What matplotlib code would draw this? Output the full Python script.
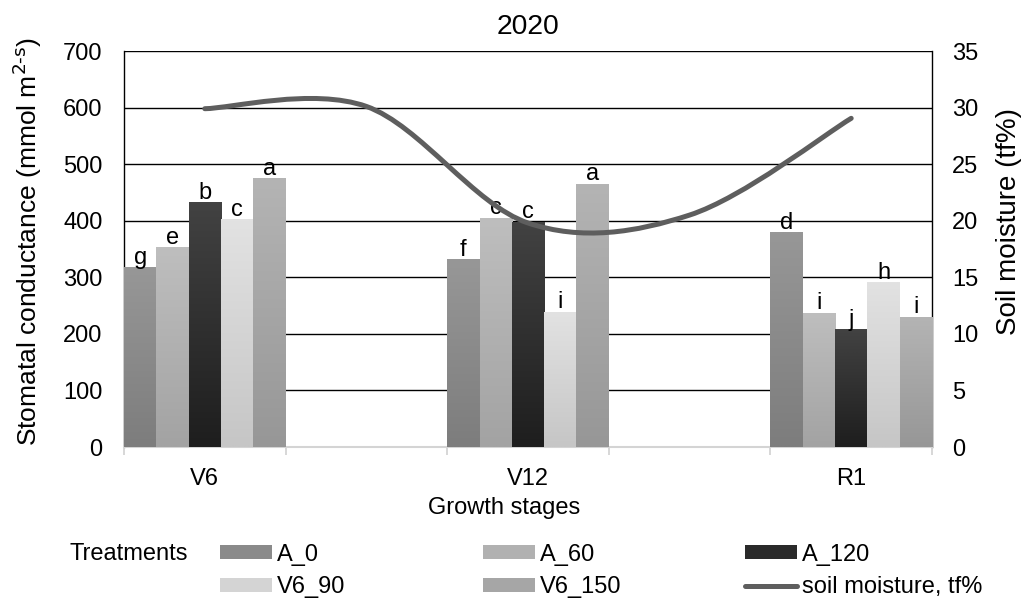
import numpy as np
import matplotlib.pyplot as plt
from matplotlib.path import Path
from matplotlib.patches import PathPatch, Patch
from matplotlib.lines import Line2D

plt.rcParams['font.family'] = ['Liberation Sans', 'DejaVu Sans']
plt.rcParams['font.size'] = 17

# data
stage_labels = ['V6', 'V12', 'R1']
stage_pos = [0, 2, 4]          # empty category between each stage
treatments = ['A_0', 'A_60', 'A_120', 'V6_90', 'V6_150']
a_0 = [318, 332, 380]
a_60 = [353, 405, 237]
a_120 = [433, 398, 208]
v6_90 = [403, 239, 291]
v6_150 = [475, 465, 230]
let_a_0 = ['g', 'f', 'd']
let_a_60 = ['e', 'c', 'i']
let_a_120 = ['b', 'c', 'j']
let_v6_90 = ['c', 'i', 'h']
let_v6_150 = ['a', 'a', 'i']
moisture_pos = [0, 1, 2, 3, 4]
moisture = [29.9, 30.1, 19.8, 20.5, 29.05]

values = [a_0, a_60, a_120, v6_90, v6_150]
letters = [let_a_0, let_a_60, let_a_120, let_v6_90, let_v6_150]
tops = ['#979797', '#bebebe', '#424242', '#e2e2e2', '#b4b4b4']
bottoms = ['#7d7d7d', '#a3a3a3', '#1e1e1e', '#c6c6c6', '#979797']
mids = ['#8a8a8a', '#b1b1b1', '#2a2a2a', '#d4d4d4', '#a6a6a6']
line_col = '#5e5e5e'

W, H = 1030, 598
fig = plt.figure(figsize=(W / 100, H / 100), dpi=100)
ax = fig.add_axes([124 / W, 1 - 447 / H, 808 / W, 396 / H])

bw = 0.2
for i, (vals, lets) in enumerate(zip(values, letters)):
    xs = [p - 0.4 + i * bw for p in stage_pos]
    bars = ax.bar(xs, vals, width=bw, facecolor='none', edgecolor='none', zorder=3)
    grad = np.linspace(np.array(plt.matplotlib.colors.to_rgb(tops[i])),
                       np.array(plt.matplotlib.colors.to_rgb(bottoms[i])), 64)[:, None, :]
    for b, lt in zip(bars, lets):
        x0, h = b.get_x(), b.get_height()
        im = ax.imshow(grad, extent=[x0, x0 + b.get_width(), 0, h], aspect='auto',
                       zorder=3, interpolation='bilinear')
        im.set_clip_path(b)
        ax.annotate(lt, (x0 + b.get_width() / 2, h), xytext=(0, 2.5),
                    textcoords='offset points', ha='center', va='baseline', zorder=6)

ax.set_xlim(-0.5, 4.5)
ax.set_ylim(0, 700)
ax.set_yticks(range(0, 701, 100))
ax.hlines(range(100, 701, 100), -0.5, 4.5, color='black', lw=1.0, zorder=0.5)
ax.set_xticks(stage_pos, stage_labels)
ax.set_xticks(np.arange(-0.5, 4.6, 1), minor=True)
ax.tick_params(axis='x', which='major', length=0, pad=15)
ax.tick_params(axis='x', which='minor', length=6, width=1.3, color='#d4d4d4')
ax.tick_params(axis='y', length=0, pad=15.5)
ax.spines['top'].set_visible(False)
for s in ['left', 'right']:
    ax.spines[s].set_color('black')
    ax.spines[s].set_linewidth(1.0)
    ax.spines[s].set_zorder(0.6)
ax.spines['bottom'].set_color('#d4d4d4')
ax.spines['bottom'].set_linewidth(1.5)
ax.set_ylabel('Stomatal conductance (mmol m$^{\\text{2-s}}$)', labelpad=14, fontsize=19)
ax.yaxis.label.set_y(0.52)
ax.set_xlabel('Growth stages', labelpad=5)
ax.xaxis.label.set_x(0.47)
ax.set_title('2020', pad=12)

ax2 = ax.twinx()
ax2.set_ylim(0, 35)
ax2.set_yticks(range(0, 36, 5))
ax2.tick_params(axis='y', length=0, pad=14.5)
for s in ax2.spines.values():
    s.set_visible(False)
ax2.set_ylabel('Soil moisture (tf%)', labelpad=13, fontsize=20)
ax2.yaxis.label.set_y(0.57)

# smoothed line (Excel style bezier through the points)
pts = np.column_stack([moisture_pos, moisture]).astype(float)
n = len(pts)
verts = [pts[0]]
codes = [Path.MOVETO]
for i in range(n - 1):
    pp = pts[max(i - 1, 0)]
    p0 = pts[i]
    p1 = pts[i + 1]
    pn = pts[min(i + 2, n - 1)]
    verts += [p0 + (p1 - pp) / 6, p1 - (pn - p0) / 6, p1]
    codes += [Path.CURVE4] * 3
curve = PathPatch(Path(verts, codes), facecolor='none', edgecolor=line_col,
                  lw=3.6, capstyle='round', zorder=5)
ax2.add_patch(curve)

# legend
fig.text(70 / W, 1 - 554 / H, 'Treatments', va='center', ha='left')
handles = [Patch(facecolor=c, edgecolor='none') for c in mids]
handles.append(Line2D([], [], color=line_col, lw=3.6, solid_capstyle='round'))
labels = treatments + ['soil moisture, tf%']
cols = [(0, 3), (1, 4), (2, 5)]
col_x = [220, 483, 745]
for (j, k), cx in zip(cols, col_x):
    fig.legend([handles[j], handles[k]], [labels[j], labels[k]],
               loc='center left', bbox_to_anchor=(cx / W, 1 - 571 / H),
               frameon=False, borderpad=0, borderaxespad=0,
               handlelength=2.2, handleheight=0.55, handletextpad=0.2,
               labelspacing=0.45)

fig.savefig('out.png', dpi=100)
